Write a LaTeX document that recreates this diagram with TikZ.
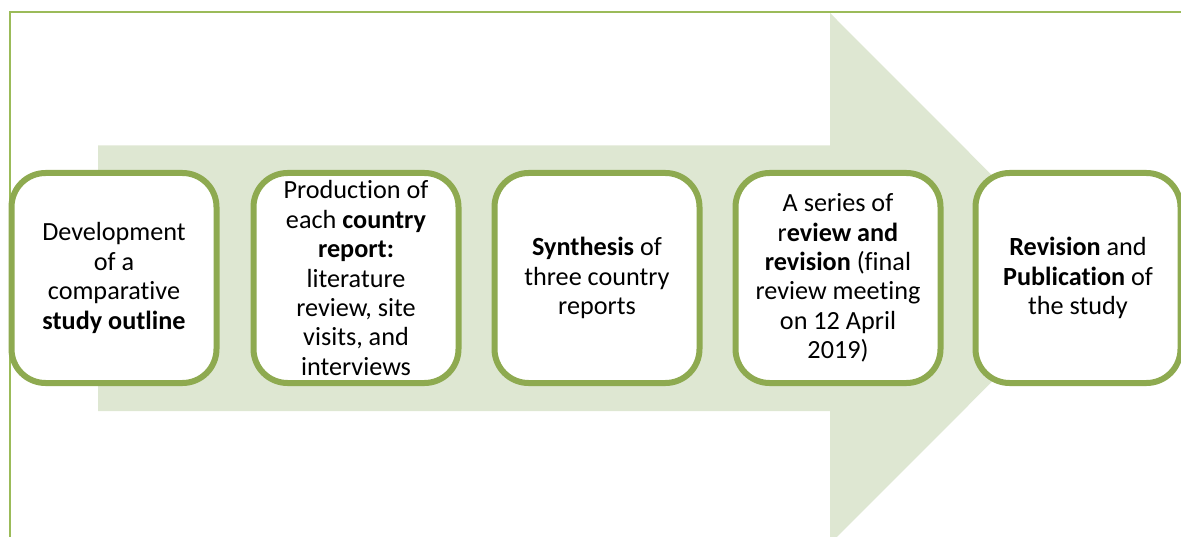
\documentclass[tikz,border=0pt]{standalone}
\usepackage{fontspec}
\setmainfont[Ligatures=NoCommon]{Carlito}
\definecolor{framegreen}{RGB}{155,187,89}
\definecolor{boxgreen}{RGB}{142,170,80}
\definecolor{arrowfill}{RGB}{222,231,210}
\tikzset{
  stepbox/.style={draw=boxgreen, line width=6pt, fill=white, rounded corners=34pt,
    minimum width=205pt, minimum height=210pt, inner sep=0pt, align=center,
    font=\fontsize{26.2}{29.4}\selectfont, text=black},
  frameline/.style={draw=framegreen, line width=1.3pt}
}
\begin{document}
\begin{tikzpicture}[x=1pt,y=-1pt]
\useasboundingbox (0,0) rectangle (1181,537);
% frame
\coordinate (fTR) at (1181,12);
\coordinate (fTL) at (10,12);
\coordinate (fBL) at (10,537);
\draw[frameline] (fTR) -- (fTL) -- (fBL);
% big arrow
\fill[arrowfill] (98,145.5) -- (830,145.5) -- (830,13) -- (1095,278.5) -- (830,544) -- (830,411) -- (98,411) -- cycle;
% boxes
\node[stepbox] (b1) at (114,278) {Development\\of a\\comparative\\\textbf{study outline}};
\node[stepbox] (b2) at (356,278) {Production of\\each \textbf{country}\\\textbf{report:}\\literature\\review, site\\visits, and\\interviews};
\node[stepbox] (b3) at (597,278) {\textbf{Synthesis} of\\three country\\reports};
\node[stepbox] (b4) at (838,278) {A series of\\r\textbf{eview and}\\\textbf{revision} (final\\review meeting\\on 12 April\\2019)};
\node[stepbox] (b5) at (1078,278) {\textbf{Revision} and\\\textbf{Publication} of\\the study};
\end{tikzpicture}
\end{document}
